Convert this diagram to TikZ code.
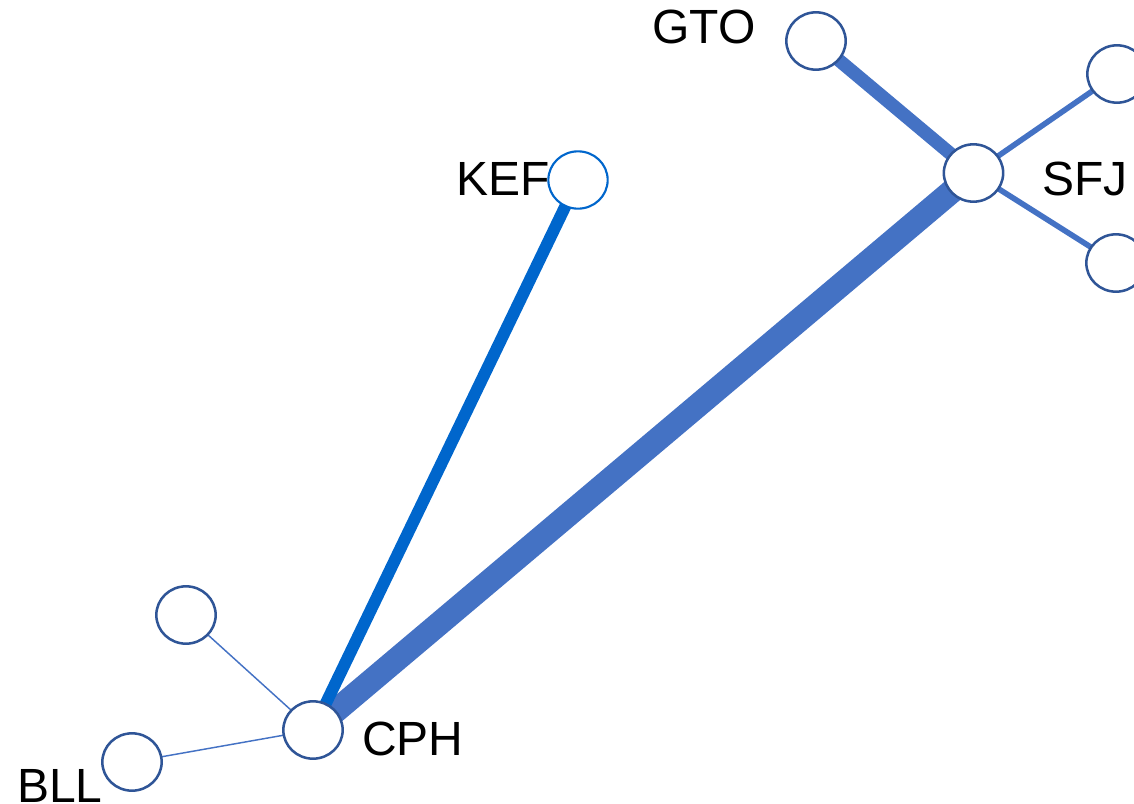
\documentclass[tikz,border=0pt]{standalone}
\usepackage{fontspec}
\setmainfont{Liberation Sans}
\usetikzlibrary{shapes.geometric}
\pgfdeclarelayer{bg}
\pgfsetlayers{bg,main}
\definecolor{edgeblue}{HTML}{4472C4}
\definecolor{kefblue}{HTML}{0066CC}
\definecolor{ringblue}{HTML}{2F5597}
\tikzset{
  airport/.style={ellipse, draw=ringblue, line width=1.9pt, fill=white,
    minimum width=44.5pt, minimum height=43pt, inner sep=0pt},
  kefring/.style={airport, draw=kefblue, line width=1.6pt},
  code/.style={inner sep=0pt, anchor=base west, font=\fontsize{36}{40}\selectfont},
  route/.style={draw=edgeblue, line cap=butt},
}
\begin{document}
\begin{tikzpicture}[x=0.75pt, y=-0.75pt]
\useasboundingbox (0,0) rectangle (1134,803);
\clip (0,0) rectangle (1134,803);
% airports
\node[airport] (gto) at (816,41) {};
\node[airport] (ne)  at (1117,74) {};
\node[airport] (sfj) at (973.5,173) {};
\node[airport] (se)  at (1116,263) {};
\node[kefring] (kef) at (578,180) {};
\node[airport] (cph) at (313,730) {};
\node[airport] (nw)  at (186,615) {};
\node[airport] (bll) at (132,762) {};
% labels
\node[code] (lgto) at (652,43) {GTO};
\node[code] (lkef) at (456,195) {KEF};
\node[code] (lsfj) at (1042,195) {SFJ};
\node[code] (lcph) at (362,755) {CPH};
\node[code] (lbll) at (17,802) {BLL};
% routes
\begin{pgfonlayer}{bg}
\draw[route, line width=18pt] (cph.center) -- (sfj.center);
\draw[route, line width=10pt] (gto.center) -- (sfj.center);
\draw[route, line width=4.2pt] (sfj.center) -- (ne.center);
\draw[route, line width=4.2pt] (sfj.center) -- (se.center);
\draw[draw=kefblue, line width=9pt] (cph.center) -- (kef.center);
\draw[route, line width=1.1pt] (cph.center) -- (nw.center);
\draw[route, line width=1.1pt] (cph.center) -- (bll.center);
\end{pgfonlayer}
\end{tikzpicture}
\end{document}
